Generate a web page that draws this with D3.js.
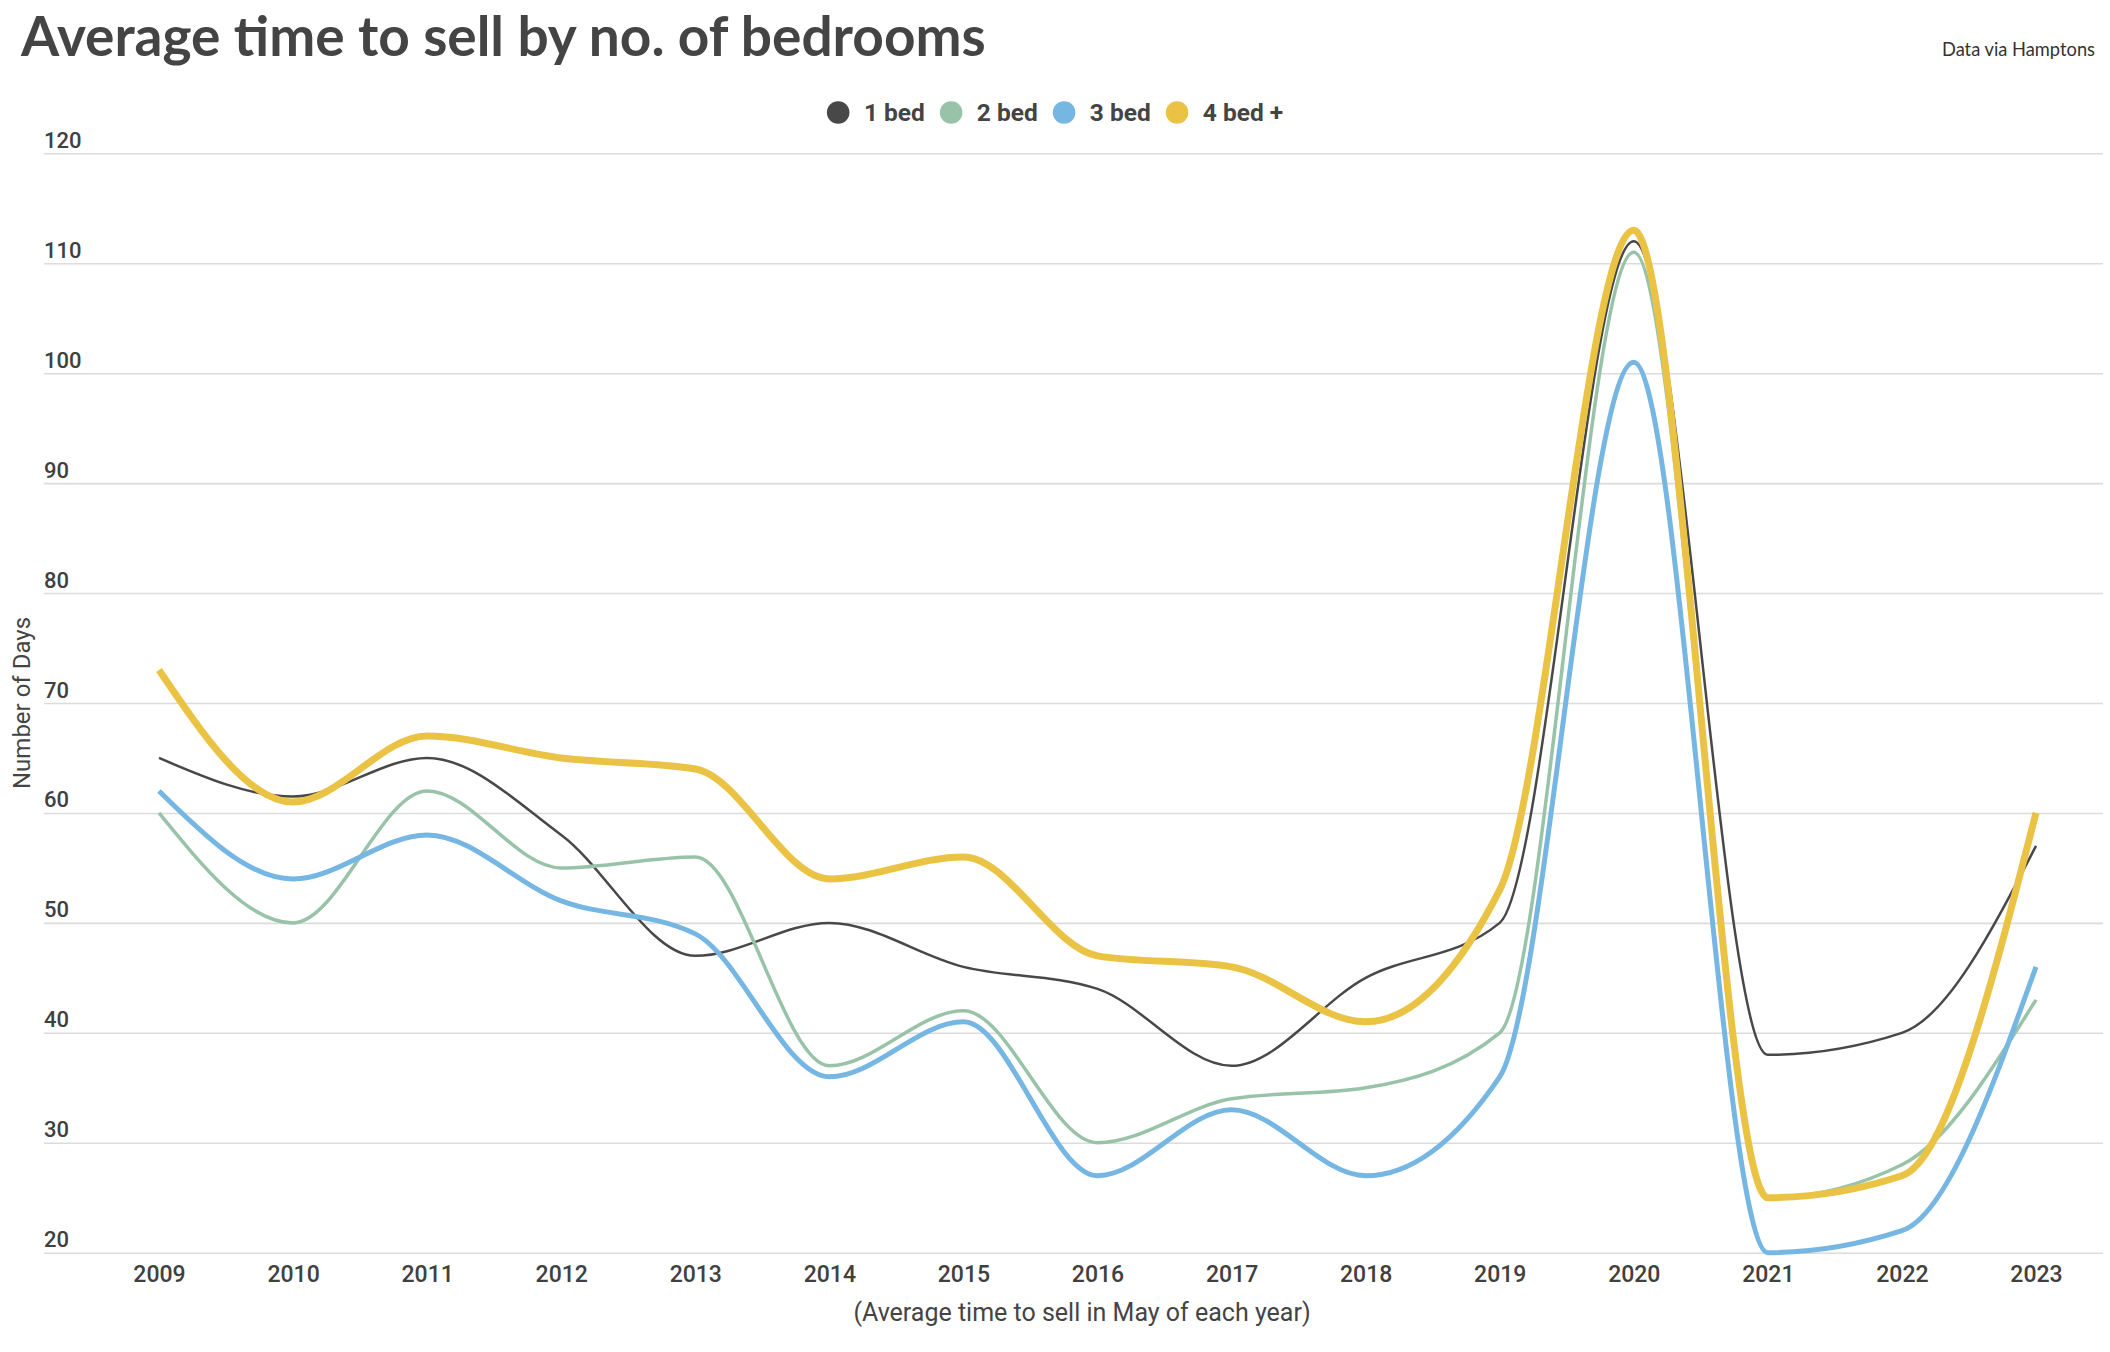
<!DOCTYPE html>
<html>
<head>
<meta charset="utf-8">
<script src="https://cdn.jsdelivr.net/npm/d3@7"></script>
<style>
  body { margin: 0; background: #fff; }
  svg { display: block; }
  .tick text { font-family: Roboto, sans-serif; font-weight: 500; fill: #404040; }
</style>
</head>
<body>
<div id="chart"></div>
<script>
// data (average days to sell, May of each year)
const years = [2009, 2010, 2011, 2012, 2013, 2014, 2015, 2016, 2017, 2018, 2019, 2020, 2021, 2022, 2023];
const oneBed = [65, 61.5, 65, 58, 47, 50, 46, 44, 37, 45, 50, 112, 38, 40, 57];
const twoBed = [60, 50, 62, 55, 56, 37, 42, 30, 34, 35, 40, 111, 25, 28, 43];
const threeBed = [62, 54, 58, 52, 49, 36, 41, 27, 33, 27, 36, 101, 20, 22, 46];
const fourBed = [73, 61, 67, 65, 64, 54, 56, 47, 46, 41, 53, 113, 25, 27, 60];
const seriesNames = ["1 bed", "2 bed", "3 bed", "4 bed +"];
const yTicks = [20, 30, 40, 50, 60, 70, 80, 90, 100, 110, 120];

// styles
const colors = ["#484848", "#98c3a9", "#75b6e3", "#ebc344"];
const strokes = [2.5, 3.5, 5, 7];

const width = 2110;
const height = 1352;

const svg = d3.select("#chart")
  .append("svg")
  .attr("width", width)
  .attr("height", height);

const x = d3.scaleLinear().domain([2009, 2023]).range([159, 2036]);
const y = d3.scaleLinear().domain([20, 120]).range([1252.7, 153.3]);

// title + source
svg.append("text")
  .attr("x", 21)
  .attr("y", 56)
  .attr("font-family", "Lato, sans-serif")
  .attr("font-weight", 700)
  .attr("font-size", 55)
  .attr("fill", "#444")
  .text("Average time to sell by no. of bedrooms");

svg.append("text")
  .attr("x", 2095)
  .attr("y", 56)
  .attr("text-anchor", "end")
  .attr("font-family", "Lato, sans-serif")
  .attr("font-size", 18.3)
  .attr("fill", "#333")
  .text("Data via Hamptons");

// y grid + labels
const yAxis = svg.append("g")
  .attr("transform", "translate(44,0)")
  .call(d3.axisRight(y).tickValues(yTicks).tickSize(2059).tickFormat(d3.format("d")));
yAxis.select(".domain").remove();
yAxis.selectAll(".tick line").attr("stroke", "#dcdcdc").attr("stroke-width", 1.6);
yAxis.selectAll(".tick text")
  .attr("x", 0)
  .attr("dy", -6)
  .attr("text-anchor", "start")
  .attr("font-size", 22);

// x axis labels
const xAxis = svg.append("g")
  .attr("transform", "translate(0,1252.7)")
  .call(d3.axisBottom(x).tickValues(years).tickSize(0).tickFormat(d3.format("d")));
xAxis.select(".domain").remove();
xAxis.selectAll(".tick text")
  .attr("y", 29)
  .attr("dy", 0)
  .attr("font-size", 23);

// axis titles
svg.append("text")
  .attr("x", 1082)
  .attr("y", 1321)
  .attr("text-anchor", "middle")
  .attr("font-family", "Roboto, sans-serif")
  .attr("font-size", 25)
  .attr("fill", "#444")
  .text("(Average time to sell in May of each year)");

svg.append("text")
  .attr("transform", "translate(30,703) rotate(-90)")
  .attr("text-anchor", "middle")
  .attr("font-family", "Roboto, sans-serif")
  .attr("font-size", 24)
  .attr("fill", "#444")
  .text("Number of Days");

// lines
const allSeries = [oneBed, twoBed, threeBed, fourBed];
const line = d3.line()
  .x((d, i) => x(years[i]))
  .y(d => y(d))
  .curve(d3.curveMonotoneX);

svg.append("g")
  .selectAll("path")
  .data(allSeries)
  .enter()
  .append("path")
  .attr("fill", "none")
  .attr("stroke", (d, i) => colors[i])
  .attr("stroke-width", (d, i) => strokes[i])
  .attr("stroke-linejoin", "round")
  .attr("d", line);

// legend, centred on the page
const legend = svg.append("g");
let lx = 0;
seriesNames.forEach(function (name, i) {
  const item = legend.append("g").attr("transform", "translate(" + lx + ",0)");
  item.append("circle")
    .attr("cx", 11.3)
    .attr("cy", 0)
    .attr("r", 11.3)
    .attr("fill", colors[i]);
  const t = item.append("text")
    .attr("x", 37)
    .attr("y", 8.5)
    .attr("font-family", "Roboto, sans-serif")
    .attr("font-weight", 700)
    .attr("font-size", 24.5)
    .attr("fill", "#444")
    .text(name);
  lx += 37 + t.node().getComputedTextLength() + 15;
});
const legendW = lx - 15;
legend.attr("transform", "translate(" + (width / 2 - legendW / 2) + ",112.5)");
</script>
</body>
</html>
